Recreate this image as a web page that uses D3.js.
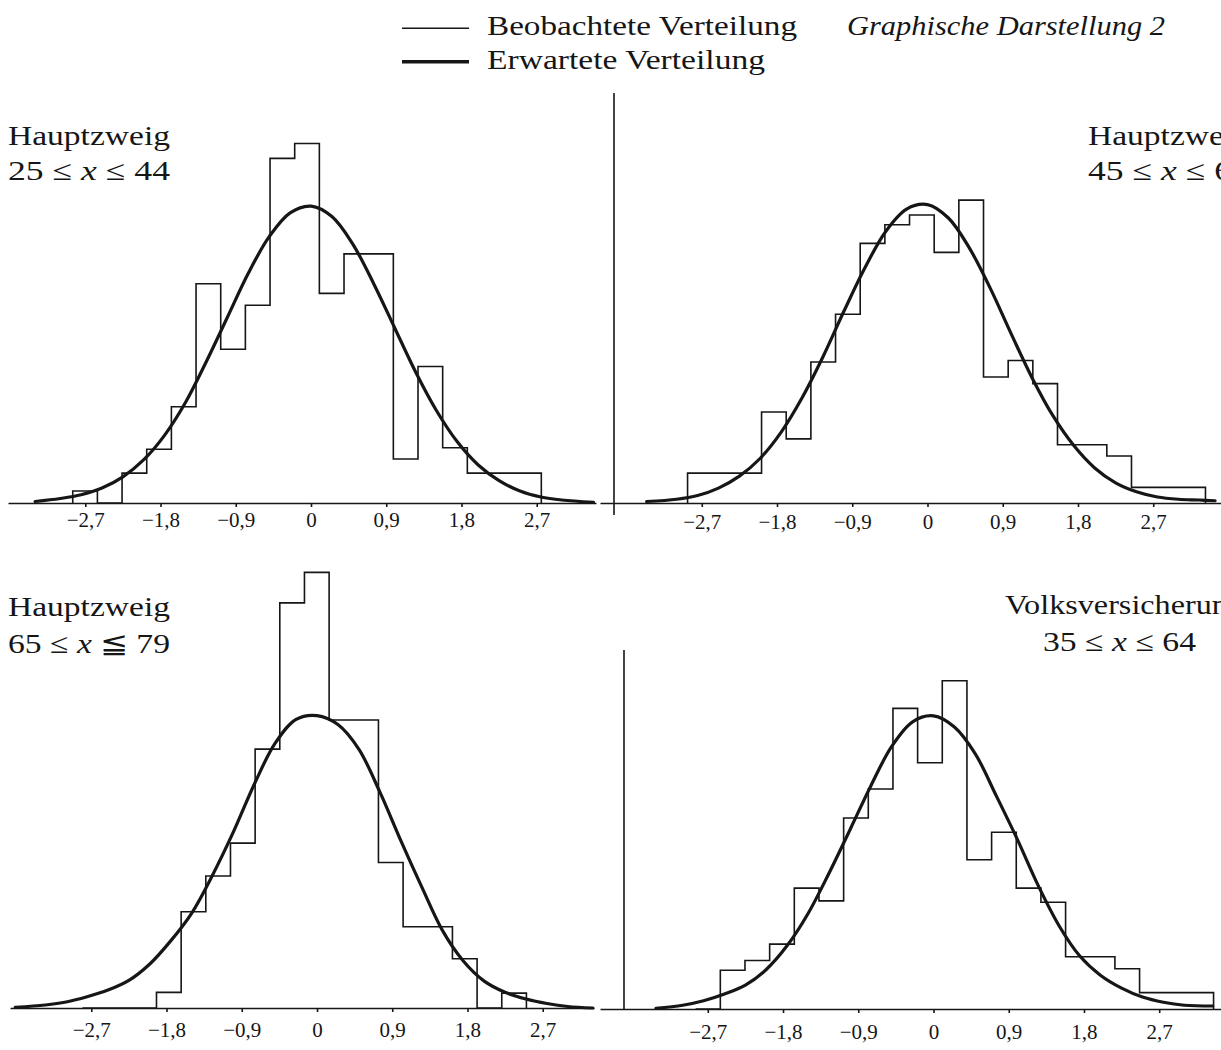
<!DOCTYPE html>
<html>
<head>
<meta charset="utf-8">
<script src="https://cdn.jsdelivr.net/npm/d3@7"></script>
<style>
  body { margin: 0; background: #fff; }
  svg { display: block; }
</style>
</head>
<body>
<div id="viz"></div>
<script>
const width = 1221;
const height = 1050;

// shared axis ticks and class width (standardised units)
const xTicks = [-2.7, -1.8, -0.9, 0, 0.9, 1.8, 2.7];
const binWidth = 0.295;

// observed distributions: height of each class (relative frequency per unit)
const obsTopLeft = [0.016, 0, 0.040, 0.072, 0.129, 0.294, 0.206, 0.265, 0.462, 0.482,
  0.281, 0.334, 0.334, 0.059, 0.183, 0.074, 0.040, 0.040, 0.040];
const obsTopRight = [0.040, 0.040, 0.040, 0.122, 0.086, 0.189, 0.253, 0.348, 0.373, 0.386,
  0.336, 0.406, 0.169, 0.191, 0.160, 0.078, 0.078, 0.063, 0.021, 0.021, 0.021];
const obsBottomLeft = [0, 0, 0, 0.021, 0.129, 0.177, 0.221, 0.347, 0.543, 0.584,
  0.386, 0.386, 0.195, 0.109, 0.109, 0.066, 0, 0.020];
const obsBottomRight = [0, 0.052, 0.065, 0.087, 0.162, 0.145, 0.256, 0.295, 0.403, 0.330,
  0.440, 0.200, 0.237, 0.162, 0.143, 0.070, 0.070, 0.054, 0.022, 0.022, 0.022];

// left edge of the first class
const binStarts = [-2.85, -2.87, -2.805, -2.845];

// expected distributions, every quarter unit
const expTopLeftX = [-3.3, -3, -2.75, -2.5, -2.25, -2, -1.75, -1.5, -1.25, -1, -0.75, -0.5, -0.25,
  0, 0.25, 0.5, 0.75, 1, 1.25, 1.5, 1.75, 2, 2.25, 2.5, 2.75, 3, 3.38];
const expTopLeftY = [0.002, 0.006, 0.011, 0.020, 0.035, 0.058, 0.091, 0.135, 0.190, 0.249, 0.308, 0.357, 0.389,
  0.398, 0.384, 0.347, 0.294, 0.235, 0.176, 0.124, 0.082, 0.051, 0.030, 0.016, 0.008, 0.004, 0.001];

const expTopRightX = [-3.36, -3, -2.75, -2.5, -2.25, -2, -1.75, -1.5, -1.25, -1, -0.75, -0.5, -0.25,
  0, 0.25, 0.5, 0.75, 1, 1.25, 1.5, 1.75, 2, 2.25, 2.5, 2.75, 3, 3.25, 3.44];
const expTopRightY = [0.002, 0.005, 0.010, 0.020, 0.036, 0.060, 0.095, 0.141, 0.196, 0.257, 0.315, 0.364, 0.394,
  0.400, 0.382, 0.342, 0.288, 0.227, 0.168, 0.117, 0.077, 0.047, 0.027, 0.015, 0.008, 0.005, 0.004, 0.003];

const expBottomLeftX = [-3.61, -3.25, -3, -2.75, -2.5, -2.25, -2, -1.75, -1.5, -1.25, -1, -0.75, -0.5, -0.25,
  0, 0.25, 0.5, 0.75, 1, 1.25, 1.5, 1.75, 2, 2.25, 2.5, 2.75, 3, 3.3];
const expBottomLeftY = [0.001, 0.004, 0.008, 0.015, 0.024, 0.037, 0.059, 0.090, 0.127, 0.178, 0.236, 0.300, 0.355, 0.387,
  0.392, 0.380, 0.347, 0.290, 0.225, 0.163, 0.104, 0.063, 0.036, 0.021, 0.012, 0.006, 0.002, 0.000];

const expBottomRightX = [-3.32, -3, -2.75, -2.5, -2.25, -2, -1.75, -1.5, -1.25, -1, -0.75, -0.5, -0.25,
  0, 0.25, 0.5, 0.75, 1, 1.25, 1.5, 1.75, 2, 2.25, 2.5, 2.75, 3, 3.34];
const expBottomRightY = [0.001, 0.005, 0.011, 0.020, 0.032, 0.053, 0.085, 0.128, 0.182, 0.240, 0.299, 0.352, 0.385,
  0.393, 0.378, 0.342, 0.286, 0.228, 0.166, 0.112, 0.071, 0.045, 0.028, 0.016, 0.009, 0.005, 0.004];

const titleLines = [
  ["Hauptzweig", "25 ≤ |x| ≤ 44"],
  ["Hauptzweig", "45 ≤ |x| ≤ 64"],
  ["Hauptzweig", "65 ≤ |x| ≦ 79"],
  ["Volksversicherung", "35 ≤ |x| ≤ 64"]
];

const legendLabels = ["Beobachtete Verteilung", "Erwartete Verteilung"];
const figureTitle = "Graphische Darstellung 2";

// layout
const pxPerUnit = 83.6;
const pxPerDensity = 746;
const ink = "#161616";
const serif = "'Liberation Serif', 'DejaVu Serif', serif";

const panels = [
  { obs: obsTopLeft, ex: expTopLeftX, ey: expTopLeftY, zero: 311, base: 503, axis: [8, 596], pad: 5,
    titles: [{ x: 8, y: 145, w: 162 }, { x: 8, y: 180, w: 162 }] },
  { obs: obsTopRight, ex: expTopRightX, ey: expTopRightY, zero: 927.5, base: 503, axis: [600, 1221], pad: 7.5,
    vline: { x: 614, y1: 93, y2: 515 },
    titles: [{ x: 1088, y: 145, w: 162 }, { x: 1088, y: 180, w: 162 }] },
  { obs: obsBottomLeft, ex: expBottomLeftX, ey: expBottomLeftY, zero: 317, base: 1008, axis: [10, 594], pad: 10,
    titles: [{ x: 8, y: 616, w: 162 }, { x: 8, y: 653, w: 162 }] },
  { obs: obsBottomRight, ex: expBottomRightX, ey: expBottomRightY, zero: 933.5, base: 1009, axis: [600, 1221], pad: 11.5,
    vline: { x: 624, y1: 650, y2: 1009 },
    titles: [{ x: 1005, y: 614, w: 239 }, { x: 1043, y: 651, w: 153 }] }
];

const svg = d3.select("#viz")
  .append("svg")
  .attr("width", width)
  .attr("height", height)
  .style("background", "#fff");

const deLocale = d3.formatLocale({ decimal: ",", thousands: ".", grouping: [3], currency: ["", " €"], minus: "\u2212" });
const fmt = deLocale.format(".1f");

// writes a title line, "|x|" parts set in italics
function titleText(g, str, pos, size) {
  const t = g.append("text")
    .attr("x", pos.x)
    .attr("y", pos.y)
    .attr("font-family", serif)
    .attr("font-size", size)
    .attr("fill", ink)
    .attr("textLength", pos.w)
    .attr("lengthAdjust", "spacingAndGlyphs");
  str.split("|").forEach((part, i) => {
    t.append("tspan")
      .attr("font-style", i % 2 ? "italic" : null)
      .text(part);
  });
}

panels.forEach((p, i) => {
  const g = svg.append("g");

  const x = d3.scaleLinear()
    .domain([(p.axis[0] - p.zero) / pxPerUnit, (p.axis[1] - p.zero) / pxPerUnit])
    .range(p.axis);

  const y = d3.scaleLinear()
    .domain([0, 0.6])
    .range([p.base, p.base - 0.6 * pxPerDensity]);

  // x axis
  const axis = g.append("g")
    .attr("transform", `translate(0,${p.base})`)
    .call(d3.axisBottom(x)
      .tickValues(xTicks)
      .tickSize(4)
      .tickSizeOuter(0)
      .tickPadding(p.pad)
      .tickFormat(d => d === 0 ? "0" : fmt(d)));

  axis.select(".domain").attr("stroke", ink).attr("stroke-width", 1.6);
  axis.selectAll(".tick line").attr("stroke", ink).attr("stroke-width", 1.6);
  axis.selectAll(".tick text")
    .attr("font-family", serif)
    .attr("font-size", 21)
    .attr("fill", ink);

  if (p.vline) {
    g.append("line")
      .attr("x1", p.vline.x).attr("x2", p.vline.x)
      .attr("y1", p.vline.y1).attr("y2", p.vline.y2)
      .attr("stroke", ink)
      .attr("stroke-width", 1.6);
  }

  // observed histogram as step outline
  const start = binStarts[i];
  const pts = [[start, 0]];
  p.obs.forEach((h, k) => {
    pts.push([start + k * binWidth, h]);
    pts.push([start + (k + 1) * binWidth, h]);
  });
  pts.push([start + p.obs.length * binWidth, 0]);

  g.append("path")
    .attr("d", d3.line().x(d => x(d[0])).y(d => y(d[1]))(pts))
    .attr("fill", "none")
    .attr("stroke", ink)
    .attr("stroke-width", 1.6);

  // expected curve
  const curve = p.ex.map((v, k) => [v, p.ey[k]]);
  g.append("path")
    .attr("d", d3.line()
      .x(d => x(d[0]))
      .y(d => y(d[1]))
      .curve(d3.curveCatmullRom.alpha(0.5))(curve))
    .attr("fill", "none")
    .attr("stroke", ink)
    .attr("stroke-width", 3.2)
    .attr("stroke-linejoin", "round")
    .attr("stroke-linecap", "round");

  titleLines[i].forEach((line, k) => titleText(g, line, p.titles[k], 28));
});

// legend
const legend = svg.append("g");
const legendRows = [{ y: 28.3, w: 1.4, tx: 35, tw: 310 }, { y: 61.7, w: 3.4, tx: 68.5, tw: 278 }];

legendRows.forEach((r, k) => {
  legend.append("line")
    .attr("x1", 402).attr("x2", 469)
    .attr("y1", r.y).attr("y2", r.y)
    .attr("stroke", ink)
    .attr("stroke-width", r.w);

  legend.append("text")
    .attr("x", 487)
    .attr("y", r.tx)
    .attr("font-family", serif)
    .attr("font-size", 27)
    .attr("fill", ink)
    .attr("textLength", r.tw)
    .attr("lengthAdjust", "spacingAndGlyphs")
    .text(legendLabels[k]);
});

svg.append("text")
  .attr("x", 847)
  .attr("y", 35)
  .attr("font-family", serif)
  .attr("font-style", "italic")
  .attr("font-size", 27)
  .attr("fill", ink)
  .attr("textLength", 318)
  .attr("lengthAdjust", "spacingAndGlyphs")
  .text(figureTitle);
</script>
</body>
</html>
